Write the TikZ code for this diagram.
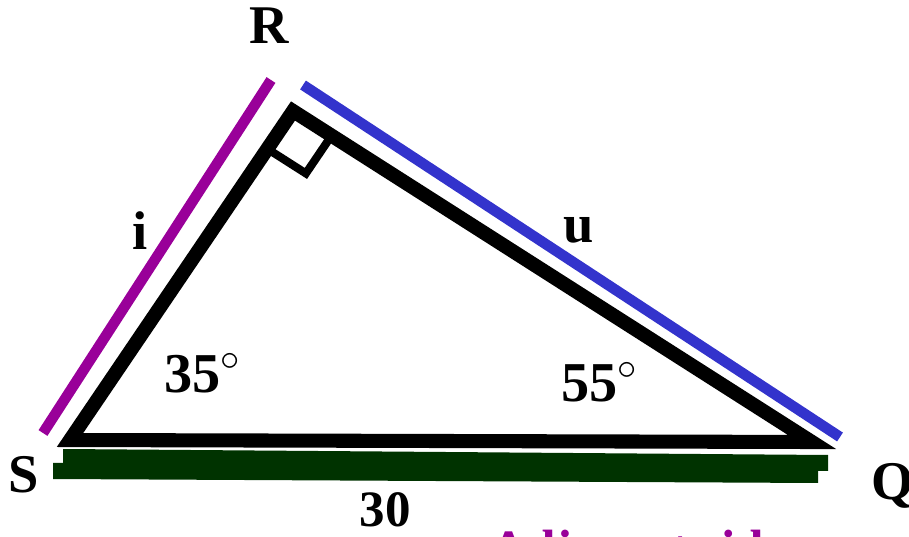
\documentclass[tikz,border=0pt]{standalone}
\usepackage{fontspec}
\setmainfont{Liberation Serif}
\usepackage{tikz}
\usetikzlibrary{calc}
\definecolor{SidePurple}{RGB}{153,0,153}
\definecolor{SideBlue}{RGB}{51,51,204}
\definecolor{SideGreen}{RGB}{0,51,0}

\begin{document}
\begin{tikzpicture}[x=0.01cm,y=-0.01cm,
  label/.style={inner sep=0pt,anchor=base,font=\fontsize{15.5}{17}\selectfont\bfseries},
  angle label/.style={label,font=\fontsize{16}{18}\selectfont\bfseries},
  side/.style={line width=3pt},
]
\useasboundingbox (0,0) rectangle (909,537);
\coordinate (S) at (70,440);
\coordinate (R) at (293,111);
\coordinate (Q) at (812,442);
% coloured sides
\coordinate (i1) at (43,433);
\coordinate (i2) at (271,80);
\coordinate (u1) at (303,85);
\coordinate (u2) at (840,437);
\draw[side,SidePurple] (i1) -- (i2);
\draw[side,SideBlue] (u1) -- (u2);
\fill[SideGreen] (63,449) -- (828,455) -- (828,471) -- (818,471) -- (818,483)
  -- (53,479) -- (53,463) -- (63,463) -- cycle;
% triangle
\draw[line width=4pt,miter limit=20] (S) -- (R) -- (Q) -- cycle;
\coordinate (m1) at ($(R)!13pt!(S)$);
\coordinate (m2) at ($(R)!13pt!(Q)$);
\draw[line width=2.3pt] (m1) -- ($(m1)+(m2)-(R)$) -- (m2);
% labels
\node[label] (lR) at (269,44) {R};
\node[label] (lS) at (24,492) {S};
\node[label] (lQ) at (893,500) {Q};
\node[label] (li) at (140,250) {i};
\node[label] (lu) at (579,243) {u};
\node[angle label] (l35) at (203,393) {35$^\circ$};
\node[angle label] (l55) at (600,402) {55$^\circ$};
\node[label,font=\fontsize{14.5}{16}\selectfont\bfseries] (l30) at (385,527) {30};
\node[label,SidePurple,anchor=base west,font=\fontsize{14.5}{16}\selectfont\bfseries] (ladj) at (490,565) {Adjacent side};
\end{tikzpicture}
\end{document}
